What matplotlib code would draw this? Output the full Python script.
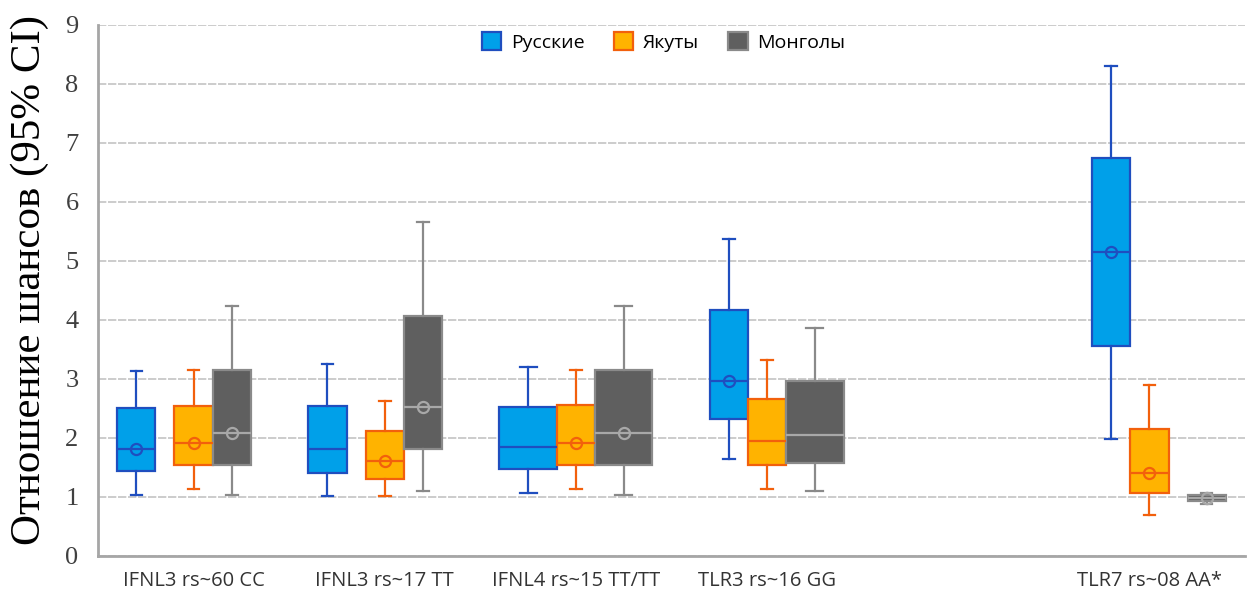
import matplotlib
matplotlib.use("Agg")
import matplotlib.pyplot as plt
from matplotlib.patches import Patch

# categories and where they sit on the axis (slot 4 is left empty)
categories = ['IFNL3 rs~60 CC', 'IFNL3 rs~17 TT', 'IFNL4 rs~15 TT/TT', 'TLR3 rs~16 GG', 'TLR7 rs~08 AA*']
cat_pos = [0, 1, 2, 3, 5]

# Русские
rus_lo = [1.04, 1.01, 1.07, 1.64, 1.98]
rus_q1 = [1.44, 1.40, 1.47, 2.32, 3.56]
rus_med = [1.81, 1.81, 1.85, 2.97, 5.16]
rus_q3 = [2.50, 2.55, 2.53, 4.17, 6.74]
rus_hi = [3.13, 3.26, 3.20, 5.38, 8.30]
rus_mean = [1.81, None, None, 2.97, 5.16]

# Якуты
yak_lo = [1.14, 1.01, 1.14, 1.14, 0.70]
yak_q1 = [1.55, 1.31, 1.55, 1.55, 1.06]
yak_med = [1.91, 1.61, 1.91, 1.95, 1.40]
yak_q3 = [2.55, 2.12, 2.56, 2.66, 2.15]
yak_hi = [3.16, 2.62, 3.16, 3.33, 2.89]
yak_mean = [1.91, 1.61, 1.91, None, 1.40]

# Монголы
mon_lo = [1.04, 1.10, 1.04, 1.10, 0.88]
mon_q1 = [1.55, 1.81, 1.55, 1.58, 0.94]
mon_med = [2.08, 2.52, 2.08, 2.05, 0.99]
mon_q3 = [3.16, 4.07, 3.16, 2.97, 1.04]
mon_hi = [4.24, 5.66, 4.24, 3.87, 1.07]
mon_mean = [2.08, 2.52, 2.08, None, 0.99]

# box extents (left, right) relative to category centre
rus_span = [(-0.4, -0.2), (-0.4, -0.2), (-0.4, -0.1), (-0.3, -0.1), (-0.3, -0.1)]
yak_span = [(-0.1, 0.1)] * 5
mon_span = [(0.1, 0.3), (0.1, 0.3), (0.1, 0.4), (0.1, 0.4), (0.2, 0.4)]

series = [
    ('Русские', rus_lo, rus_q1, rus_med, rus_q3, rus_hi, rus_mean, rus_span,
     '#00A0E9', '#1F4EBF', '#1F4EBF'),
    ('Якуты', yak_lo, yak_q1, yak_med, yak_q3, yak_hi, yak_mean, yak_span,
     '#FFB300', '#F2600C', '#F2600C'),
    ('Монголы', mon_lo, mon_q1, mon_med, mon_q3, mon_hi, mon_mean, mon_span,
     '#5F5F5F', '#8A8A8A', '#A8A8A8'),
]

fig = plt.figure(figsize=(12.52, 5.99), dpi=100)
ax = fig.add_axes([0.0783, 0.0718, 0.9161, 0.8865])

handles = []
for name, lo, q1, med, q3, hi, mean, span, fill, edge, medc in series:
    stats = []
    positions = []
    widths = []
    for i in range(len(categories)):
        stats.append({'whislo': lo[i], 'q1': q1[i], 'med': med[i], 'q3': q3[i], 'whishi': hi[i]})
        left, right = span[i]
        positions.append(cat_pos[i] + (left + right) / 2)
        widths.append(right - left)
    ax.bxp(stats, positions=positions, widths=widths, capwidths=[w * 0.3 for w in widths],
           showfliers=False, patch_artist=True, manage_ticks=False,
           boxprops=dict(facecolor=fill, edgecolor=edge, linewidth=1.6),
           whiskerprops=dict(color=edge, linewidth=1.6),
           capprops=dict(color=edge, linewidth=1.6),
           medianprops=dict(color=medc, linewidth=1.6), zorder=3)
    mx = [positions[i] for i in range(len(mean)) if mean[i] is not None]
    my = [m for m in mean if m is not None]
    ax.plot(mx, my, 'o', markersize=8, markerfacecolor='none', markeredgecolor=medc,
            markeredgewidth=1.6, zorder=4)
    handles.append(Patch(facecolor=fill, edgecolor=edge, linewidth=1.6, label=name))

ax.set_xlim(-0.5, 5.5)
ax.set_ylim(0, 9)
ax.set_yticks(range(10))
ax.set_xticks(cat_pos)
ax.set_xticklabels(categories, fontsize=14.5, family='Open Sans', color='#333333')
ax.tick_params(axis='x', length=0, pad=11)
ax.tick_params(axis='y', length=0, pad=14)
for lab in ax.get_yticklabels():
    lab.set_family('Liberation Serif')
    lab.set_fontsize(19)
    lab.set_color('#404040')

ax.yaxis.grid(True, color='#C4C4C4', linewidth=1.2, linestyle=(0, (5, 1)))
ax.set_axisbelow(True)
for s in ['top', 'right']:
    ax.spines[s].set_visible(False)
for s in ['left', 'bottom']:
    ax.spines[s].set_color('#A6A6A6')
    ax.spines[s].set_linewidth(2)

ax.set_ylabel('Отношение шансов (95% CI)', family='Liberation Serif', fontsize=31,
              color='black')
ax.yaxis.set_label_coords(-0.043, 0.52)

ax.legend(handles=handles, loc='center', bbox_to_anchor=(0.493, 0.968), ncol=3,
          frameon=False, prop={'family': 'Open Sans', 'size': 14},
          handlelength=1.0, handleheight=1.0, columnspacing=1.5, handletextpad=0.5)

fig.savefig('out.png', dpi=100)
